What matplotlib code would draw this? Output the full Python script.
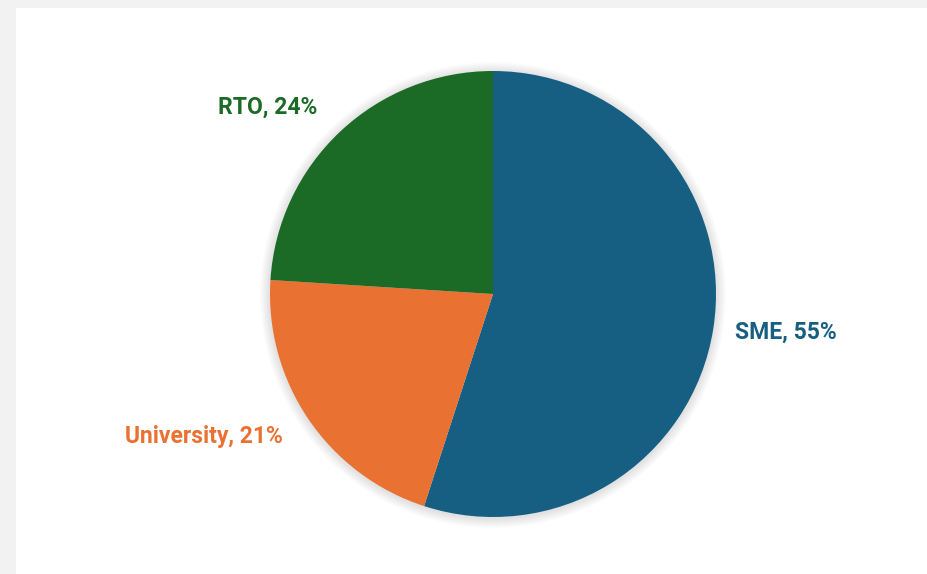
import numpy as np
import matplotlib.pyplot as plt
from matplotlib.patches import Rectangle, Circle

# Data
categories = ["SME", "University", "RTO"]
shares = [55, 21, 24]
colors = ["#175F82", "#E97132", "#1B6A25"]

W, H = 928, 574
fig = plt.figure(figsize=(W / 100, H / 100), dpi=100, facecolor="#F2F2F2")

ax = fig.add_axes([0, 0, 1, 1])
ax.set_xlim(0, W)
ax.set_ylim(0, H)
ax.set_aspect("equal")

cx, cy, r = 493, H - 294, 223

labels = [f"{c}, {v}%" for c, v in zip(categories, shares)]
wedges, texts = ax.pie(shares, labels=labels, colors=colors, startangle=90, counterclock=False,
                       center=(cx, cy), radius=r, frame=True,
                       wedgeprops=dict(linewidth=0),
                       textprops=dict(fontsize=16.5, fontweight="bold", family="Roboto"))

# place labels outside each wedge, aligned away from the pie
label_dist = [1.10, 1.14, 1.15]
for w, t, c, d in zip(wedges, texts, colors, label_dist):
    w.set_zorder(3)
    mid = np.deg2rad((w.theta1 + w.theta2) / 2)
    t.set_position((cx + d * r * np.cos(mid), cy + d * r * np.sin(mid)))
    t.set_ha("left" if np.cos(mid) > 0 else "right")
    t.set_va("center")
    t.set_color(c)

# white chart panel
ax.add_patch(Rectangle((16, 0), W - 16, H - 8, facecolor="white", edgecolor="none", zorder=0))

# soft shadow round the pie
for i in range(1, 11):
    ax.add_patch(Circle((cx, cy - 1), r + i, color="black", alpha=0.012, lw=0, zorder=1))

ax.set_xlim(0, W)
ax.set_ylim(0, H)
ax.axis("off")

fig.savefig("out.png", dpi=100, facecolor=fig.get_facecolor())
